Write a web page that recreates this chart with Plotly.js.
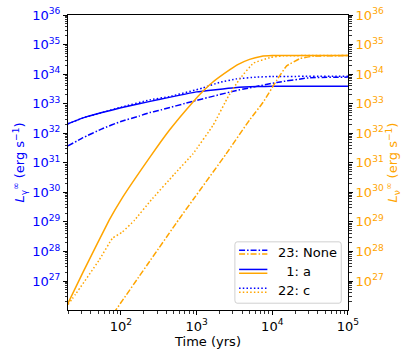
<!DOCTYPE html>
<html>
<head>
<meta charset="utf-8">
<script src="https://cdn.plot.ly/plotly-3.0.1.min.js"></script>
<style>
  body { margin: 0; background: #fff; }
  #plot { width: 415px; height: 356px; }
</style>
</head>
<body>
<div id="plot"></div>
<script>
// values, as log10 of time (yrs) and log10 of luminosity (erg/s)
var labels = ["23: None", "\u20071: a", "22: c"];
var xTickExp = [2, 3, 4, 5];
var yTickExp = [27, 28, 29, 30, 31, 32, 33, 34, 35, 36];

// gamma-ray luminosity (blue, left axis)
var gNoneT = [1.30, 1.5, 1.75, 2.0, 2.24, 2.38, 2.5, 2.95, 3.5, 4.06, 4.5, 5.0];
var gNoneL = [31.57, 31.85, 32.15, 32.4, 32.58, 32.7, 32.77, 33.08, 33.43, 33.72, 33.88, 33.9];
var gAT = [1.30, 1.5, 1.75, 2.0, 2.24, 2.5, 3.0, 3.5, 3.8, 4.0, 5.0];
var gAL = [32.32, 32.52, 32.7, 32.86, 33.0, 33.14, 33.4, 33.54, 33.58, 33.59, 33.59];
var gCT = [1.30, 1.5, 1.75, 2.0, 2.38, 2.64, 3.08, 3.3, 3.53, 3.8, 4.0, 5.0];
var gCL = [32.32, 32.52, 32.7, 32.88, 33.13, 33.24, 33.53, 33.72, 33.84, 33.9, 33.92, 33.93];

// neutrino luminosity (orange, right axis)
var nNoneT = [1.90, 2.77, 2.95, 3.39, 3.70, 3.88, 4.06, 4.19, 4.37, 4.55, 5.0];
var nNoneL = [25.9, 29.1, 29.74, 31.3, 32.45, 33.05, 33.8, 34.28, 34.53, 34.61, 34.63];
var nAT = [1.30, 1.5, 1.845, 2.0, 2.4, 2.64, 2.95, 3.08, 3.2, 3.44, 3.55, 3.7, 3.85, 4.0, 5.0];
var nAL = [26.24, 27.3, 29.06, 29.74, 31.25, 32.1, 33.05, 33.41, 33.7, 34.15, 34.33, 34.5, 34.6, 34.63, 34.63];
var nCT = [1.30, 1.40, 1.71, 1.89, 2.02, 2.18, 2.40, 2.7, 2.95, 3.22, 3.42, 3.57, 3.75, 3.97, 4.15, 5.0];
var nCL = [26.2, 26.55, 27.7, 28.45, 28.66, 29.06, 29.74, 30.6, 31.3, 32.28, 33.25, 33.84, 34.37, 34.56, 34.62, 34.63];

var blue = "#0000ff", orange = "#ffa500";
var dashdot = "6px,2px,1.5px,2px", dotted = "1.5px,2.2px";
var pw = function (a) { return a.map(function (v) { return Math.pow(10, v); }); };
var powLabel = function (e) { return "10<sup>" + e + "</sup>"; };

function line(t, l, color, dash, axis) {
  return {
    x: pw(t), y: pw(l), yaxis: axis, type: "scatter", mode: "lines",
    line: {color: color, width: 1.5, dash: dash, shape: "spline", smoothing: 0.3},
    showlegend: false, hoverinfo: "skip"
  };
}

var data = [
  line(gNoneT, gNoneL, blue, dashdot, "y"),
  line(gAT, gAL, blue, "solid", "y"),
  line(gCT, gCL, blue, dotted, "y"),
  line(nNoneT, nNoneL, orange, dashdot, "y2"),
  line(nAT, nAL, orange, "solid", "y2"),
  line(nCT, nCL, orange, dotted, "y2")
];

var font = "DejaVu Sans, sans-serif";
var minor = {ticks: "outside", ticklen: 2.5, tickcolor: "#000", tickwidth: 0.8, dtick: "D1"};

// hand-made legend: two swatches (blue above orange) per entry
var dashes = [dashdot, "solid", dotted];
var rowY = [0.196, 0.131, 0.067];
var shapes = [{
  type: "path", xref: "paper", yref: "paper",
  path: "M 0.604 0.023 L 0.968 0.023 Q 0.976 0.023 0.976 0.033 L 0.976 0.221 Q 0.976 0.231 0.968 0.231 L 0.604 0.231 Q 0.596 0.231 0.596 0.221 L 0.596 0.033 Q 0.596 0.023 0.604 0.023 Z",
  line: {color: "#d0d0d0", width: 1}, fillcolor: "rgba(255,255,255,0.8)"
}];
var annotations = [];
labels.forEach(function (name, i) {
  [blue, orange].forEach(function (c, k) {
    var dy = (k === 0 ? 0.0065 : -0.0065);
    shapes.push({
      type: "line", xref: "paper", yref: "paper",
      x0: 0.611, x1: 0.712, y0: rowY[i] + dy, y1: rowY[i] + dy,
      line: {color: c, width: 1.5, dash: dashes[i]}
    });
  });
  annotations.push({
    xref: "paper", yref: "paper", x: 0.742, y: rowY[i], xanchor: "left", yanchor: "middle",
    text: name, showarrow: false, font: {family: font, size: 13, color: "#000"}
  });
});

function yAxis(color, title, extra) {
  var ax = {
    type: "log", range: [26.02, 36.001],
    tickmode: "array", tickvals: pw(yTickExp), ticktext: yTickExp.map(powLabel),
    showgrid: false, zeroline: false, showline: true, linecolor: "#000", linewidth: 1,
    ticks: "outside", ticklen: 4, tickcolor: "#000", minor: minor,
    tickfont: {family: font, size: 13, color: color},
    title: {text: title, font: {family: font, size: 13, color: color}, standoff: 4}
  };
  for (var k in extra) ax[k] = extra[k];
  return ax;
}

var layout = {
  width: 415, height: 356,
  margin: {l: 68, r: 67, t: 15, b: 46},
  paper_bgcolor: "#fff", plot_bgcolor: "#fff",
  font: {family: font, size: 13, color: "#000"},
  showlegend: false,
  xaxis: {
    type: "log", range: [1.301, 5.0005],
    tickmode: "array", tickvals: pw(xTickExp), ticktext: xTickExp.map(powLabel),
    showgrid: false, zeroline: false, showline: true, linecolor: "#000", linewidth: 1, mirror: true,
    ticks: "outside", ticklen: 4, tickcolor: "#000", minor: minor,
    tickfont: {family: font, size: 13, color: "#000"},
    title: {text: "Time (yrs)", font: {family: font, size: 13, color: "#000"}, standoff: 0}
  },
  yaxis: yAxis(blue, "<i>L</i><sub>γ</sub><sup>∞</sup> (erg s<sup>−1</sup>)", {}),
  yaxis2: yAxis(orange, "<i>L</i><sub>ν</sub><sup>∞</sup> (erg s<sup>−1</sup>)", {overlaying: "y", side: "right"}),
  shapes: shapes,
  annotations: annotations
};

Plotly.newPlot("plot", data, layout, {staticPlot: true});
</script>
</body>
</html>
